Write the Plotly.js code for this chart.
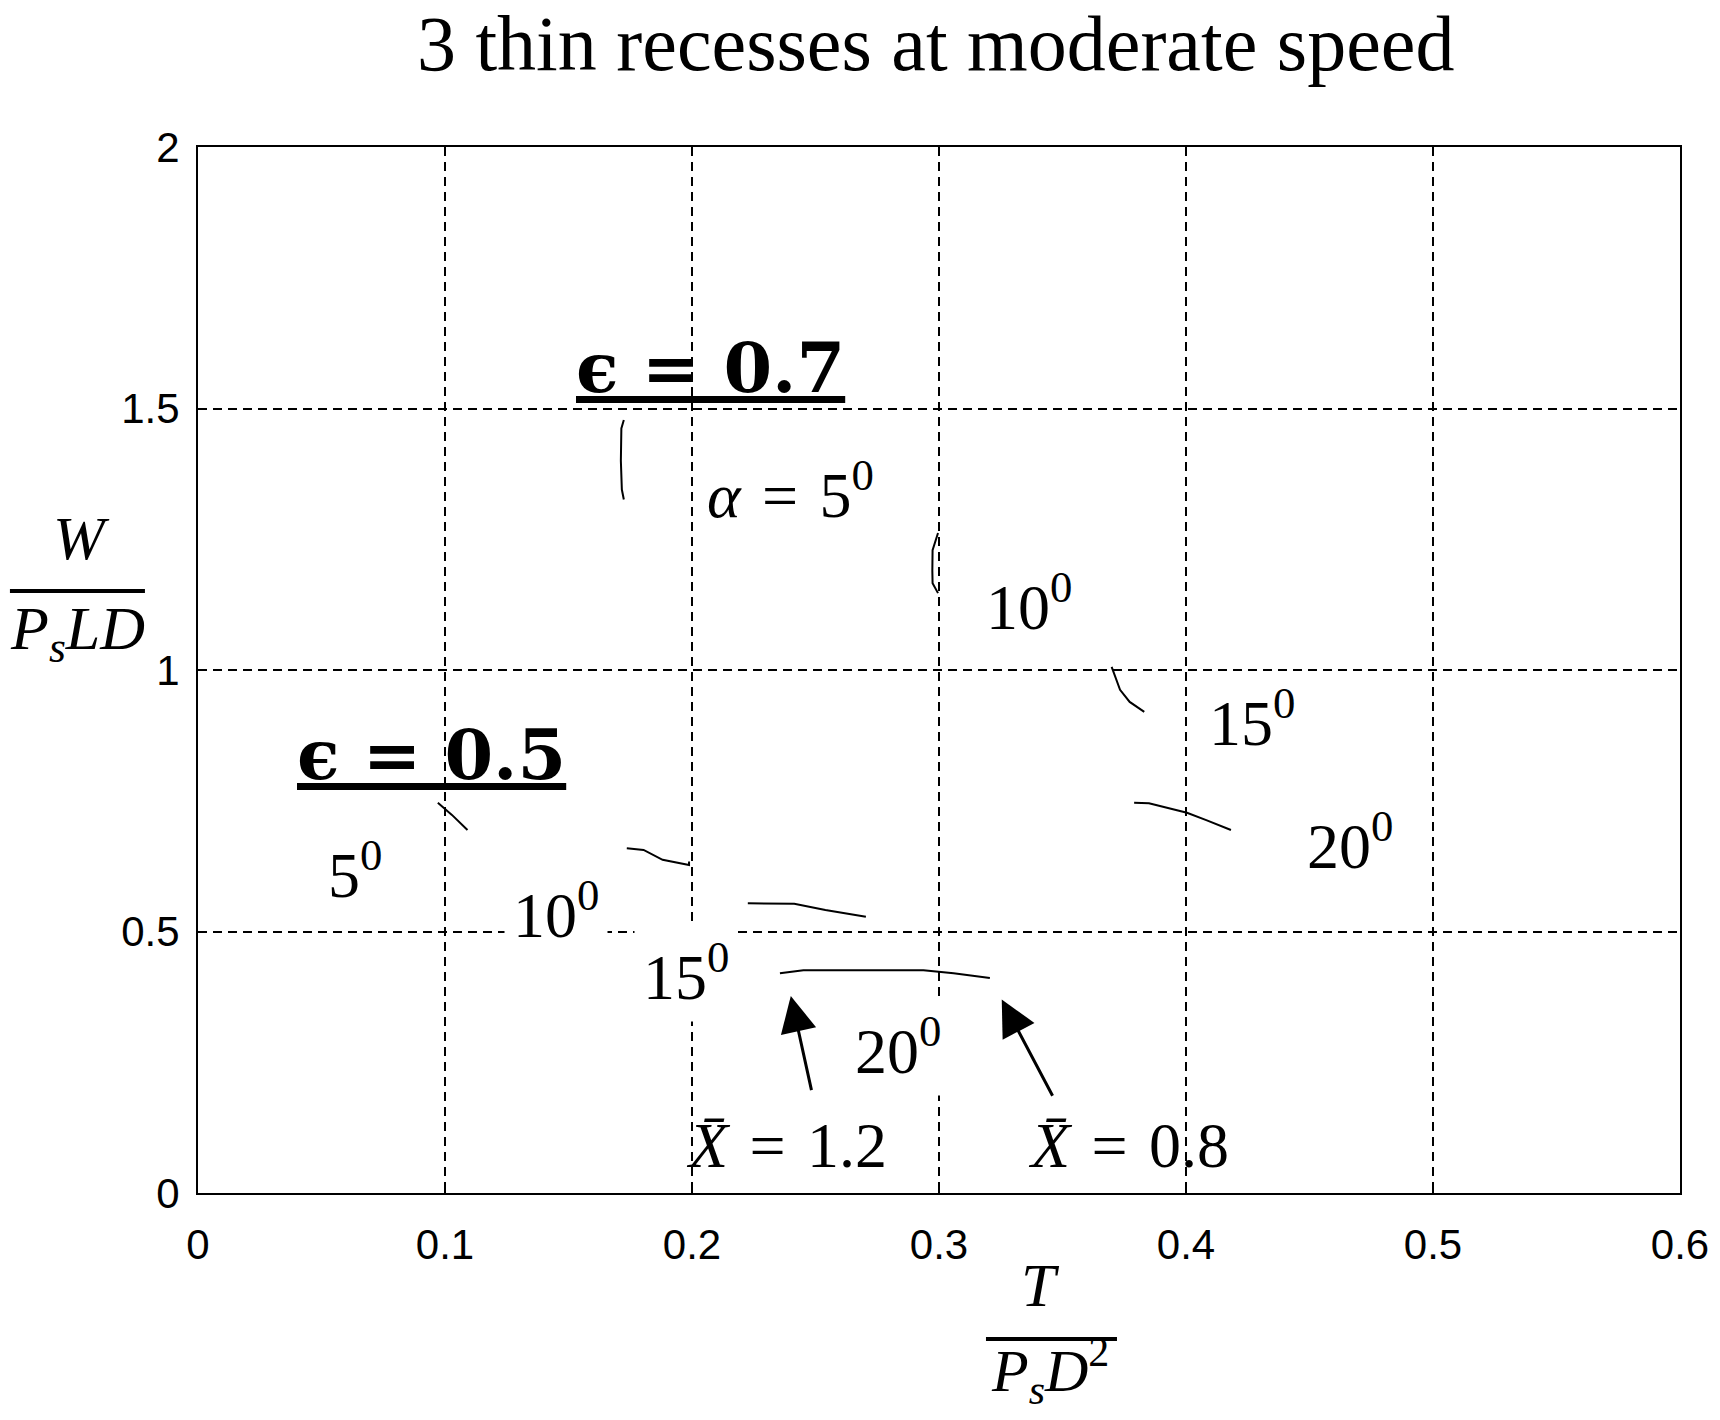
<!DOCTYPE html>
<html>
<head>
<meta charset="utf-8">
<script src="https://cdn.plot.ly/plotly-3.0.1.min.js"></script>
<style>
  body { margin: 0; background: #fff; }
  #chart { width: 1720px; height: 1420px; }
</style>
</head>
<body>
<div id="chart"></div>
<script>
var e07a05T = [0.1724, 0.1714, 0.1712, 0.1716, 0.1724];
var e07a05W = [1.478, 1.462, 1.400, 1.345, 1.326];
var e07a10T = [0.2996, 0.2974, 0.2973, 0.2974, 0.2996];
var e07a10W = [1.262, 1.229, 1.190, 1.166, 1.147];
var e07a15T = [0.3699, 0.3733, 0.3772, 0.3831];
var e07a15W = [1.006, 0.962, 0.939, 0.920];
var e07a20T = [0.3790, 0.3850, 0.3927, 0.4004, 0.4082, 0.4182];
var e07a20W = [0.746, 0.745, 0.736, 0.727, 0.713, 0.694];

var e05a05T = [0.0971, 0.1028, 0.1091];
var e05a05W = [0.746, 0.723, 0.694];
var e05a10T = [0.1736, 0.1804, 0.1881, 0.1988, 0.1988];
var e05a10W = [0.659, 0.656, 0.637, 0.627, 0.634];
var e05a15T = [0.2226, 0.2414, 0.2540, 0.2704];
var e05a15W = [0.554, 0.553, 0.541, 0.528];
var e05a20T = [0.2356, 0.2451, 0.2937, 0.3059, 0.3206];
var e05a20W = [0.420, 0.426, 0.426, 0.420, 0.411];

var xTicks = [0, 0.1, 0.2, 0.3, 0.4, 0.5, 0.6];
var yTicks = [0, 0.5, 1, 1.5, 2];

var sup0 = '<sup>0</sup>';
var sp = '\u2004';

// label text and where it sits (T, W)
var labelText = ['<i>α</i>' + sp + '=' + sp + '5' + sup0, '10' + sup0, '15' + sup0, '20' + sup0,
                 '5' + sup0, '10' + sup0, '15' + sup0, '20' + sup0];
var labelT = [0.240, 0.3364, 0.4267, 0.4664, 0.0636, 0.145, 0.1974, 0.2834];
var labelW = [1.344, 1.130, 0.908, 0.673, 0.6176, 0.541, 0.4207, 0.281];
var labelBg = [true, false, false, false, false, true, true, true];

var epsText = ['<b><u>ϵ' + sp + '=' + sp + '0.7</u></b>', '<b><u>ϵ' + sp + '=' + sp + '0.5</u></b>'];
var epsT = [0.2073, 0.0947];
var epsW = [1.579, 0.8375];

var xbarText = ['<i>X\u0304</i>' + sp + '=' + sp + '1.2', '<i>X\u0304</i>' + sp + '=' + sp + '0.8'];
var xbarT = [0.2383, 0.3767];
var xbarW = [0.0899, 0.0899];
// arrow head (tip) and tail
var arrowTipT = [0.240, 0.3254];
var arrowTipW = [0.3767, 0.370];
var arrowTailT = [0.2485, 0.3463];
var arrowTailW = [0.1937, 0.183];

var serif = 'Liberation Serif, Times New Roman, serif';

function curve(t, w) {
    return {
        x: t,
        y: w,
        type: 'scatter',
        mode: 'lines',
        line: {color: 'black', width: 2},
        hoverinfo: 'none',
        showlegend: false
    };
}

var data = [
    curve(e07a05T, e07a05W),
    curve(e07a10T, e07a10W),
    curve(e07a15T, e07a15W),
    curve(e07a20T, e07a20W),
    curve(e05a05T, e05a05W),
    curve(e05a10T, e05a10W),
    curve(e05a15T, e05a15W),
    curve(e05a20T, e05a20W)
];

var annotations = [];
for (var i = 0; i < labelText.length; i++) {
    annotations.push({
        x: labelT[i], y: labelW[i], xref: 'x', yref: 'y',
        text: labelText[i], showarrow: false,
        xanchor: 'center', yanchor: 'middle',
        font: {family: serif, size: 64, color: 'black'},
        bgcolor: labelBg[i] ? 'white' : 'rgba(0,0,0,0)',
        borderpad: 8
    });
}
for (var i = 0; i < epsText.length; i++) {
    annotations.push({
        x: epsT[i], y: epsW[i], xref: 'x', yref: 'y',
        text: epsText[i], showarrow: false,
        xanchor: 'center', yanchor: 'middle',
        font: {family: 'DejaVu Serif, serif', size: 70, color: 'black'}
    });
}
for (var i = 0; i < xbarText.length; i++) {
    annotations.push({
        x: xbarT[i], y: xbarW[i], xref: 'x', yref: 'y',
        text: xbarText[i], showarrow: false,
        xanchor: 'center', yanchor: 'middle',
        font: {family: serif, size: 64, color: 'black'}
    });
    annotations.push({
        x: arrowTipT[i], y: arrowTipW[i], xref: 'x', yref: 'y',
        ax: arrowTailT[i], ay: arrowTailW[i], axref: 'x', ayref: 'y',
        text: '', showarrow: true,
        arrowhead: 2, arrowsize: 2.4, arrowwidth: 3, arrowcolor: 'black',
        standoff: 0, startstandoff: 0
    });
}

// axis titles written as fractions
annotations.push({x: -0.0789, y: 0.6262, xref: 'paper', yref: 'paper', text: '<i>W</i>',
    showarrow: false, xanchor: 'center', yanchor: 'middle', font: {family: serif, size: 62, color: 'black'}});
annotations.push({x: -0.081, y: 0.5354, xref: 'paper', yref: 'paper', text: '<i>P<sub>s</sub>LD</i>',
    showarrow: false, xanchor: 'center', yanchor: 'middle', font: {family: serif, size: 62, color: 'black'}});
annotations.push({x: 0.5682, y: -0.088, xref: 'paper', yref: 'paper', text: '<i>T</i>',
    showarrow: false, xanchor: 'center', yanchor: 'middle', font: {family: serif, size: 62, color: 'black'}});
annotations.push({x: 0.5749, y: -0.170, xref: 'paper', yref: 'paper', text: '<i>P<sub>s</sub>D</i><sup>2</sup>',
    showarrow: false, xanchor: 'center', yanchor: 'middle', font: {family: serif, size: 60, color: 'black'}});

var shapes = [
    {type: 'line', xref: 'paper', yref: 'paper', x0: -0.1269, x1: -0.0358, y0: 0.5755, y1: 0.5755,
     line: {color: 'black', width: 4}},
    {type: 'line', xref: 'paper', yref: 'paper', x0: 0.5317, x1: 0.6201, y0: -0.1396, y1: -0.1396,
     line: {color: 'black', width: 4}}
];

var axisCommon = {
    showline: true,
    mirror: true,
    linecolor: 'black',
    linewidth: 2,
    showgrid: true,
    gridcolor: 'black',
    gridwidth: 2,
    griddash: '9px,6px',
    zeroline: false,
    ticks: 'inside',
    ticklen: 8,
    tickwidth: 1.5,
    tickcolor: 'black',
    tickfont: {family: 'Liberation Sans, Arial, sans-serif', size: 42, color: 'black'},
    fixedrange: true
};

var layout = {
    width: 1720,
    height: 1420,
    margin: {l: 198, r: 40, t: 147, b: 227},
    paper_bgcolor: 'white',
    plot_bgcolor: 'white',
    title: {
        text: '3 thin recesses at moderate speed',
        font: {family: serif, size: 78, color: 'black'},
        x: 0.544, xanchor: 'center', xref: 'container',
        y: 0.9892, yanchor: 'top', yref: 'container'
    },
    xaxis: Object.assign({}, axisCommon, {
        range: [0, 0.6], tickvals: xTicks, ticktext: xTicks.map(String), ticklabelstandoff: 14
    }),
    yaxis: Object.assign({}, axisCommon, {
        range: [0, 2], tickvals: yTicks, ticktext: yTicks.map(String), ticklabelstandoff: 8
    }),
    annotations: annotations,
    shapes: shapes,
    showlegend: false
};

Plotly.newPlot('chart', data, layout, {displayModeBar: false, staticPlot: true});
</script>
</body>
</html>
